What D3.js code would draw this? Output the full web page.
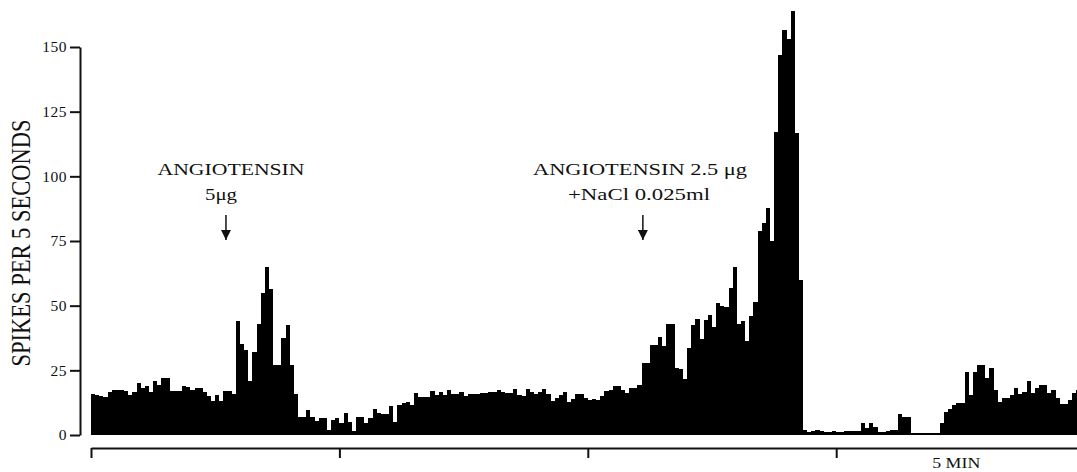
<!DOCTYPE html>
<html>
<head>
<meta charset="utf-8">
<script src="https://cdn.jsdelivr.net/npm/d3@7"></script>
<style>
    body { margin: 0; background: #fff; }
    .serif { font-family: "Liberation Serif", "Times New Roman", serif; fill: #111; }
</style>
</head>
<body>
<div id="chart"></div>
<script>
// spikes counted in each 5-second bin left to right
const spikeCounts = [
    16, 15.5, 15, 14.5, 16.5, 17.5, 17.5, 17.5, 17, 15.5,
    16.5, 20, 18, 19, 16.5, 21, 19.5, 22, 22, 17,
    17, 17, 19, 18.5, 17.5, 18, 18, 16.5, 15, 13,
    15.5, 13, 17, 17, 16, 44, 35, 33, 21, 32,
    43, 55, 65, 56.5, 27, 27, 37.5, 42.5, 27, 16,
    7, 7, 9.5, 7, 5.5, 6.5, 6.5, 2, 5.8, 6.4,
    4.5, 8.4, 5.2, 1.5, 7, 7, 4.5, 6.4, 9.9, 8.4,
    8, 8, 11.2, 5, 11.6, 12.5, 12.9, 11.6, 16.1, 14.8,
    14.8, 14.8, 17.1, 15.5, 16.8, 15.5, 17.4, 15.8, 15.8, 16.8,
    15, 15.8, 15.8, 16, 16.1, 16.1, 16.8, 16.8, 17.4, 16.5,
    16.3, 16.1, 17.6, 15.5, 15, 17.6, 16.5, 15.8, 16.5, 17.6,
    15.8, 13.1, 14.2, 15.5, 16.8, 12.9, 14, 15.8, 15.8, 14.2,
    13.5, 14, 13.5, 15, 17, 17.5, 19, 19, 17.4, 16.4,
    18, 18, 19.3, 28, 28, 34.8, 34.8, 38, 34.4, 42.9,
    42.9, 25.8, 25.4, 21.5, 33.5, 42.5, 45, 37.3, 44.4, 46.4,
    41.9, 51.2, 50, 49.5, 57, 65, 43, 44, 36.5, 46,
    51.5, 79, 82, 87.6, 75, 117, 146.8, 156.5, 153, 164,
    116.6, 59.9, 2, 1, 1.5, 2, 1.5, 1, 1, 1.5,
    1.3, 1.3, 1.5, 1.5, 1.5, 1.5, 4.8, 2.8, 4.8, 3,
    1.3, 1.3, 1.6, 1.9, 1.9, 8, 7.1, 7, 0.8, 0.8,
    0.8, 0.8, 0.8, 0.8, 0.8, 4.5, 9, 10, 11.6, 12.2,
    12.2, 24.2, 15.5, 24.5, 27, 27, 21.9, 26, 17.4, 12.9,
    14.2, 14.2, 15.5, 18, 15.7, 16.8, 20.9, 16.1, 18, 19.3,
    19.3, 16.1, 17.4, 14.2, 11.9, 11.9, 13.5, 16.1, 17.4
];

const yTicks = [0, 25, 50, 75, 100, 125, 150];
const xTickBins = [0, 60, 120, 180, 240];     // one tick every 5 min (60 bins)
const totalBins = 240;

// injections: bin position of the arrow and the text above it
const injectionBins = [32.6, 133.3];
const injectionLabels = [
    ["ANGIOTENSIN", "5\u03bcg"],
    ["ANGIOTENSIN 2.5 \u03bcg", "+NaCl 0.025ml"]
];
const yTitle = "SPIKES PER 5 SECONDS";
const timeLabel = "5 MIN";

const width = 1077;
const height = 472;

const svg = d3.select("#chart")
    .append("svg")
    .attr("width", width)
    .attr("height", height);

// --- scales ---
const x = d3.scaleLinear()
    .domain([0, totalBins])
    .range([91, 91 + totalBins * 4.14]);

const y = d3.scaleLinear()
    .domain([0, 150])
    .range([435, 47]);

// --- histogram bars (contiguous, rounded edges so no seams show) ---
svg.append("g")
    .attr("shape-rendering", "crispEdges")
    .selectAll(".bar")
    .data(spikeCounts)
    .enter().append("rect")
    .attr("class", "bar")
    .attr("x", (d, i) => Math.round(x(i)))
    .attr("width", (d, i) => Math.round(x(i + 1)) - Math.round(x(i)))
    .attr("y", d => Math.round(y(d)))
    .attr("height", d => Math.round(y(0)) - Math.round(y(d)))
    .attr("fill", "#000");

// --- y axis ---
const yAxis = svg.append("g")
    .attr("transform", "translate(80,0)")
    .call(d3.axisLeft(y).tickValues(yTicks).tickSize(10).tickSizeOuter(0).tickPadding(3));

yAxis.select(".domain").attr("stroke", "#111").attr("stroke-width", 2);
yAxis.selectAll(".tick line").attr("stroke", "#111").attr("stroke-width", 2);
yAxis.selectAll(".tick text")
    .attr("class", "serif")
    .style("font-size", "15.5px")
    .style("letter-spacing", "0.5px");

// y title
svg.append("text")
    .attr("class", "serif")
    .attr("transform", "translate(30,243) rotate(-90) scale(1,1.3)")
    .attr("text-anchor", "middle")
    .attr("textLength", 247)
    .attr("lengthAdjust", "spacingAndGlyphs")
    .style("font-size", "21px")
    .text(yTitle);

// --- time axis underneath ---
const xAxis = svg.append("g")
    .attr("transform", "translate(0,448)")
    .call(d3.axisBottom(x).tickValues(xTickBins).tickSize(10).tickSizeOuter(0).tickFormat(""));

xAxis.select(".domain").attr("stroke", "#111").attr("stroke-width", 2);
xAxis.selectAll(".tick line").attr("stroke", "#111").attr("stroke-width", 2);

svg.append("text")
    .attr("class", "serif")
    .attr("x", x(209))
    .attr("y", 468)
    .attr("text-anchor", "middle")
    .attr("textLength", 48)
    .attr("lengthAdjust", "spacingAndGlyphs")
    .style("font-size", "15px")
    .text(timeLabel);

// --- injection markers ---
svg.append("defs").append("marker")
    .attr("id", "head")
    .attr("viewBox", "0 0 10 10")
    .attr("refX", 10)
    .attr("refY", 5)
    .attr("markerWidth", 7)
    .attr("markerHeight", 7)
    .attr("orient", "auto")
    .append("path")
    .attr("d", "M0,0 L10,5 L0,10 z")
    .attr("fill", "#111");

const labelLengths = [[147, 32], [214, 142]];
const labelCentres = [231, 640];

injectionBins.forEach((b, k) => {
    const ax = x(b);
    svg.append("line")
        .attr("x1", ax).attr("x2", ax)
        .attr("y1", 215).attr("y2", 240)
        .attr("stroke", "#111")
        .attr("stroke-width", 1.5)
        .attr("marker-end", "url(#head)");

    svg.append("text")
        .attr("class", "serif")
        .attr("x", labelCentres[k])
        .attr("y", 174.5)
        .attr("text-anchor", "middle")
        .attr("textLength", labelLengths[k][0])
        .attr("lengthAdjust", "spacingAndGlyphs")
        .style("font-size", "16px")
        .text(injectionLabels[k][0]);

    svg.append("text")
        .attr("class", "serif")
        .attr("x", k === 0 ? 221 : 639)
        .attr("y", 199.5)
        .attr("text-anchor", "middle")
        .attr("textLength", labelLengths[k][1])
        .attr("lengthAdjust", "spacingAndGlyphs")
        .style("font-size", "16px")
        .text(injectionLabels[k][1]);
});
</script>
</body>
</html>
